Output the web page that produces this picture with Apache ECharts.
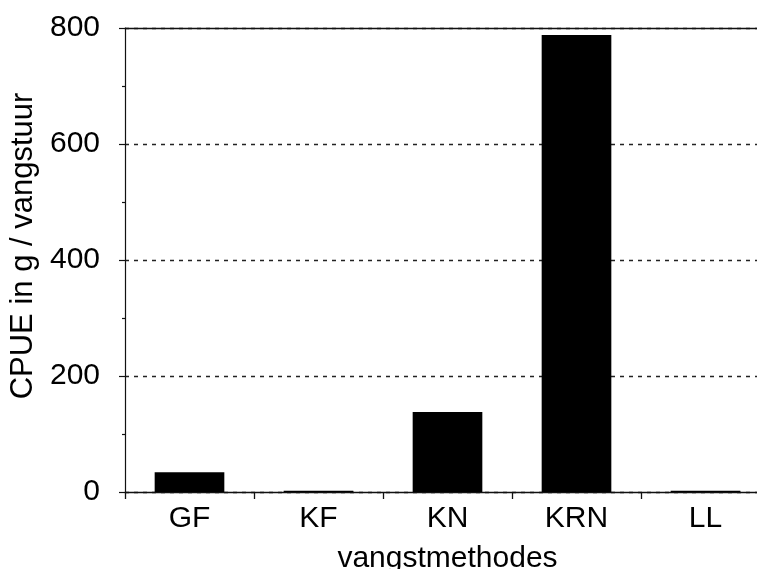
<!DOCTYPE html>
<html>
<head>
<meta charset="utf-8">
<script src="https://cdn.jsdelivr.net/npm/echarts@6/dist/echarts.min.js"></script>
<style>html,body{margin:0;padding:0;background:#fff;}#c{width:757px;height:569px;}</style>
</head>
<body>
<div id="c"></div>
<script>
const categories = ['GF', 'KF', 'KN', 'KRN', 'LL'];
const cpue = [34, 2, 138, 788, 2];
const yTicks = [0, 200, 400, 600, 800];
const xTitle = 'vangstmethodes';
const yTitle = 'CPUE in g / vangstuur';

const FONT = '"Liberation Sans", Arial, sans-serif';
const chart = echarts.init(document.getElementById('c'), null, {renderer: 'canvas'});
chart.setOption({
  animation: false,
  backgroundColor: '#fff',
  grid: {left: 125, top: 28, bottom: 77, right: -13, containLabel: false, outerBoundsMode: 'none'},
  xAxis: [{
    type: 'category',
    data: categories,
    position: 'bottom',
    boundaryGap: true,
    axisLine: {show: true, lineStyle: {color: '#111', width: 1.3}},
    axisTick: {show: true, alignWithLabel: false, length: 7, lineStyle: {color: '#111', width: 1.3}},
    axisLabel: {color: '#000', fontFamily: FONT, fontSize: 30, margin: 12},
    name: xTitle,
    nameLocation: 'middle',
    nameGap: 52,
    nameTextStyle: {color: '#000', fontFamily: FONT, fontSize: 30}
  }, {
    type: 'category',
    data: categories,
    position: 'top',
    axisLine: {show: true, lineStyle: {color: '#111', width: 1.3}},
    axisTick: {show: false},
    axisLabel: {show: false}
  }],
  yAxis: {
    type: 'value',
    min: 0,
    max: 800,
    interval: 200,
    axisLine: {show: true, lineStyle: {color: '#111', width: 1.2}},
    axisTick: {show: true, length: 6, lineStyle: {color: '#111', width: 1.2}},
    minorTick: {show: true, splitNumber: 2, length: 3, lineStyle: {color: '#111', width: 1.2}},
    axisLabel: {color: '#000', fontFamily: FONT, fontSize: 30, margin: 25,
      formatter: function (v) { return yTicks.indexOf(v) >= 0 ? String(v) : ''; }},
    splitLine: {show: true, lineStyle: {color: '#222', width: 1.3, type: [4, 5]}},
    name: yTitle,
    nameLocation: 'middle',
    nameGap: 84,
    nameTextStyle: {color: '#000', fontFamily: FONT, fontSize: 31, padding: [0, 0, 0, 28]}
  },
  series: [{
    type: 'bar',
    data: cpue,
    barWidth: '54%',
    itemStyle: {color: '#000'}
  }]
});
</script>
</body>
</html>
